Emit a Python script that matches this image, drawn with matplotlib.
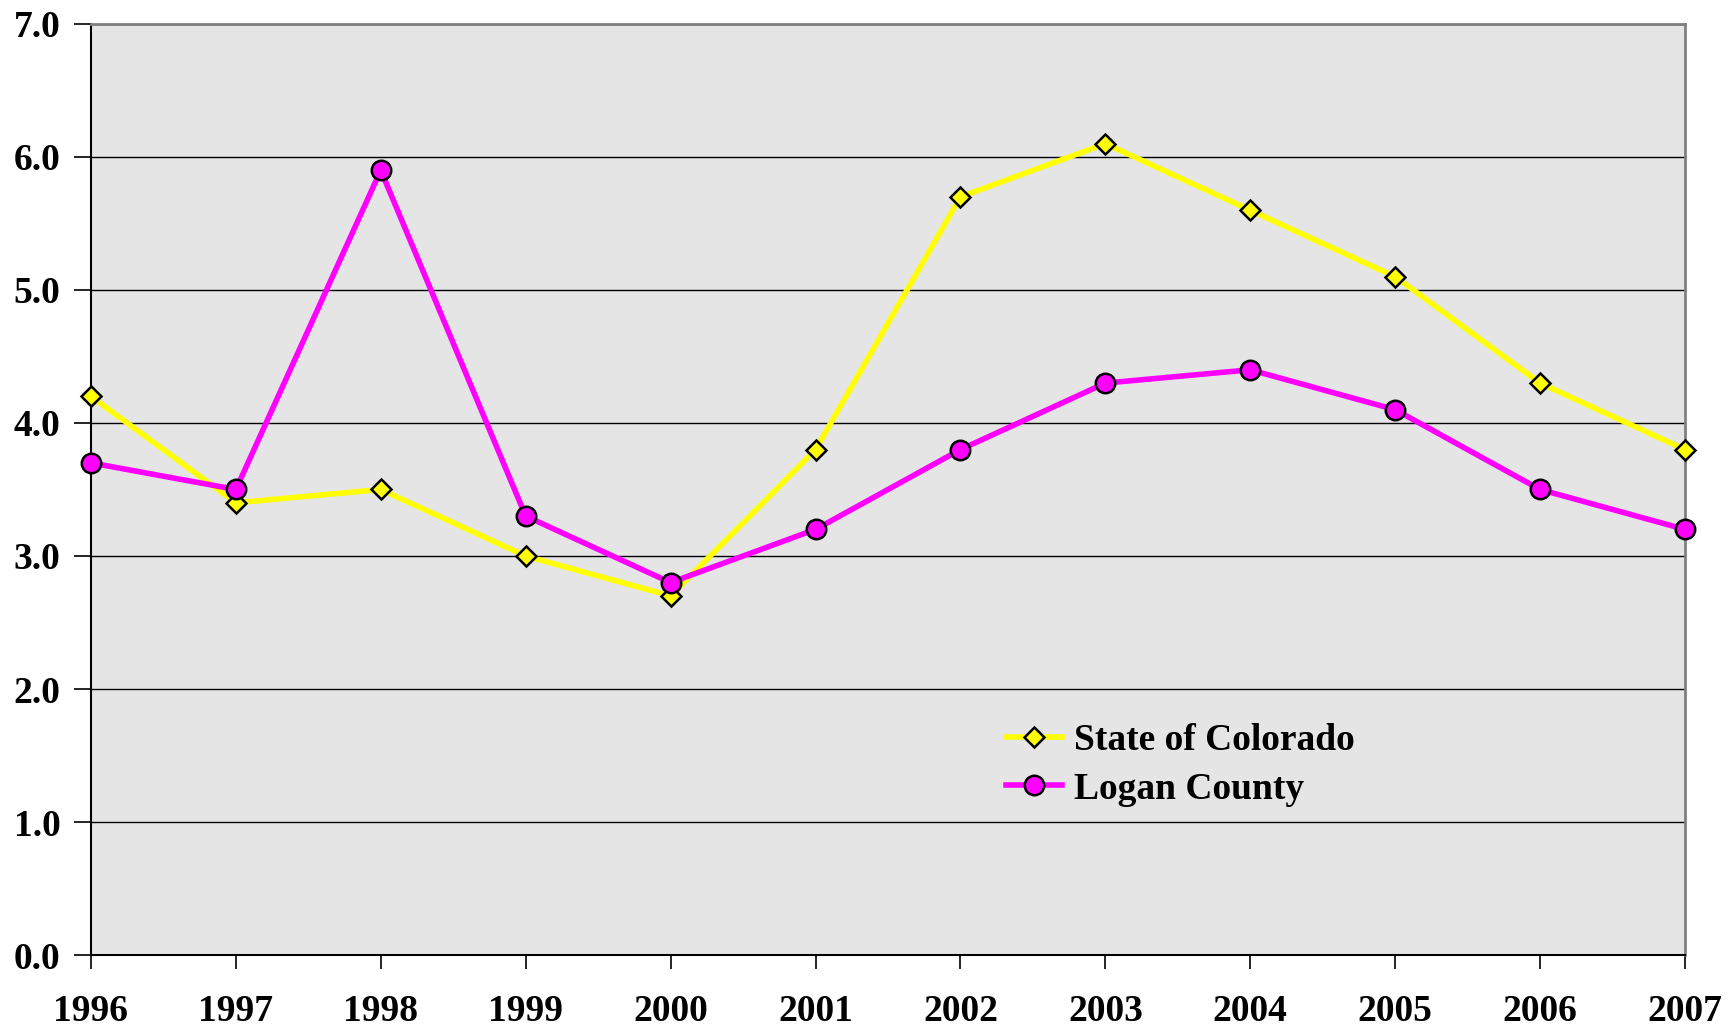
import matplotlib
matplotlib.use("Agg")
import matplotlib.pyplot as plt

years = ["1996", "1997", "1998", "1999", "2000", "2001", "2002", "2003", "2004", "2005", "2006", "2007"]
colorado = [4.2, 3.4, 3.5, 3.0, 2.7, 3.8, 5.7, 6.1, 5.6, 5.1, 4.3, 3.8]
logan = [3.7, 3.5, 5.9, 3.3, 2.8, 3.2, 3.8, 4.3, 4.4, 4.1, 3.5, 3.2]
yticks = [0, 1, 2, 3, 4, 5, 6, 7]

plt.rcParams['font.family'] = ['Liberation Serif', 'DejaVu Serif']
plt.rcParams['font.weight'] = 'bold'

fig = plt.figure(figsize=(17.36, 10.29), dpi=100)
ax = fig.add_axes([0.0524, 0.0719, 0.9182, 0.9048])
ax.set_facecolor('#e5e5e5')

x = list(range(len(years)))
ax.plot(x, colorado, color='#FFFF00', lw=4, marker='D', markersize=10,
        markerfacecolor='#FFFF00', markeredgecolor='black', markeredgewidth=1.8,
        label='State of Colorado', zorder=3, clip_on=False)
ax.plot(x, logan, color='#FF00FF', lw=4, marker='o', markersize=14,
        markerfacecolor='#FF00FF', markeredgecolor='black', markeredgewidth=1.8,
        label='Logan County', zorder=4, clip_on=False)

ax.set_xlim(0, len(years) - 1)
ax.set_ylim(0, 7)
ax.set_xticks(x)
ax.set_xticklabels(years)
ax.set_yticks(yticks)
ax.set_yticklabels([f"{v:.1f}" for v in yticks])
ax.tick_params(axis='x', direction='out', length=10, width=1.2, pad=18, labelsize=27)
ax.tick_params(axis='y', direction='out', length=12, width=1.2, pad=10, labelsize=27)
for lab in ax.get_xticklabels() + ax.get_yticklabels():
    lab.set_fontweight('bold')

ax.yaxis.grid(True, color='black', lw=1.0)
ax.set_axisbelow(True)
for s in ['left', 'bottom']:
    ax.spines[s].set_color('black')
    ax.spines[s].set_linewidth(1.5)
for s in ['top', 'right']:
    ax.spines[s].set_color('#808080')
    ax.spines[s].set_linewidth(2)

leg = ax.legend(loc='upper left', bbox_to_anchor=(0.553, 0.285), frameon=False,
                prop={'size': 27, 'weight': 'bold'}, handlelength=1.5,
                handletextpad=0.3, labelspacing=0.35)

fig.savefig('out.png', dpi=100)
